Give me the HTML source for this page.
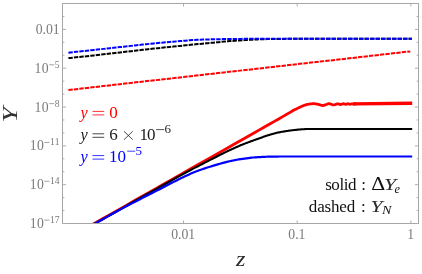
<!DOCTYPE html>
<html><head><meta charset="utf-8"><title>plot</title>
<style>html,body{margin:0;padding:0;background:#fff;}body{width:422px;height:274px;overflow:hidden;font-family:"Liberation Serif",serif;}svg{display:block}</style>
</head><body>
<svg width="422" height="274" viewBox="0 0 422 274" style="will-change:transform">
<rect width="422" height="274" fill="#fff"/>
<defs><clipPath id="pc"><rect x="62.5" y="3.5" width="356" height="220.5"/></clipPath></defs>
<g fill="none" stroke-linejoin="round" clip-path="url(#pc)">
<path d="M68.40,90.00 L410.30,51.40" stroke="#ff0000" stroke-width="2.0" stroke-dasharray="4.4 1.1"/>
<path d="M68.40,58.10 L70.37,57.89 L72.99,57.62 L76.11,57.30 L79.58,56.94 L83.25,56.55 L86.97,56.16 L90.61,55.77 L94.00,55.40 L97.20,55.04 L100.38,54.68 L103.54,54.31 L106.72,53.94 L109.94,53.57 L113.21,53.19 L116.56,52.80 L120.00,52.40 L123.56,51.99 L127.22,51.57 L130.96,51.14 L134.75,50.71 L138.57,50.27 L142.41,49.84 L146.22,49.41 L150.00,49.00 L153.82,48.59 L157.73,48.18 L161.69,47.77 L165.62,47.36 L169.48,46.97 L173.20,46.59 L176.73,46.23 L180.00,45.90 L183.01,45.59 L185.82,45.31 L188.45,45.04 L190.94,44.79 L193.31,44.56 L195.59,44.33 L197.81,44.11 L200.00,43.90 L202.11,43.70 L204.10,43.51 L205.99,43.33 L207.81,43.16 L209.59,43.00 L211.37,42.84 L213.16,42.67 L215.00,42.50 L216.84,42.32 L218.63,42.15 L220.41,41.97 L222.19,41.80 L224.01,41.62 L225.90,41.45 L227.89,41.27 L230.00,41.10 L232.26,40.92 L234.65,40.74 L237.13,40.56 L239.69,40.38 L242.28,40.21 L244.88,40.04 L247.47,39.89 L250.00,39.75 L252.50,39.63 L255.00,39.52 L257.50,39.42 L260.00,39.33 L262.50,39.25 L265.00,39.17 L267.50,39.11 L270.00,39.05 L272.43,39.00 L274.77,38.96 L277.06,38.93 L279.38,38.91 L281.77,38.89 L284.30,38.88 L287.02,38.86 L290.00,38.85 L293.27,38.84 L296.80,38.83 L300.52,38.82 L304.38,38.81 L308.31,38.81 L312.27,38.81 L316.18,38.80 L320.00,38.80 L323.53,38.80 L326.75,38.80 L329.85,38.80 L333.01,38.80 L336.41,38.80 L340.26,38.80 L344.72,38.80 L350.00,38.80 L356.63,38.80 L364.68,38.80 L373.60,38.80 L382.82,38.80 L391.82,38.80 L400.03,38.80 L406.91,38.80 L411.90,38.80" stroke="#000" stroke-width="2.0" stroke-dasharray="4.4 1.1"/>
<path d="M68.40,52.70 L70.37,52.48 L72.99,52.20 L76.11,51.86 L79.58,51.48 L83.25,51.07 L86.97,50.67 L90.61,50.27 L94.00,49.90 L97.20,49.55 L100.38,49.21 L103.54,48.87 L106.72,48.53 L109.94,48.19 L113.21,47.84 L116.56,47.47 L120.00,47.10 L123.56,46.71 L127.22,46.30 L130.96,45.87 L134.75,45.44 L138.57,45.02 L142.41,44.59 L146.22,44.19 L150.00,43.80 L153.82,43.42 L157.73,43.05 L161.69,42.69 L165.62,42.33 L169.48,41.99 L173.20,41.67 L176.73,41.37 L180.00,41.10 L182.91,40.86 L185.47,40.64 L187.79,40.45 L190.00,40.27 L192.21,40.12 L194.53,39.97 L197.09,39.83 L200.00,39.70 L203.27,39.58 L206.80,39.46 L210.52,39.36 L214.38,39.28 L218.31,39.20 L222.27,39.12 L226.18,39.06 L230.00,39.00 L233.75,38.95 L237.50,38.91 L241.25,38.88 L245.00,38.86 L248.75,38.84 L252.50,38.82 L256.25,38.81 L260.00,38.80 L263.54,38.79 L266.80,38.79 L269.93,38.79 L273.12,38.79 L276.55,38.79 L280.39,38.80 L284.81,38.80 L290.00,38.80 L296.05,38.80 L302.85,38.80 L310.22,38.80 L318.01,38.80 L326.04,38.80 L334.16,38.80 L342.20,38.80 L350.00,38.80 L358.07,38.80 L366.79,38.80 L375.79,38.80 L384.70,38.80 L393.14,38.80 L400.73,38.80 L407.11,38.80 L411.90,38.80" stroke="#0000ff" stroke-width="2.0" stroke-dasharray="4.4 1.1"/>
<path d="M92.00,224.82 L96.53,222.25 L102.61,218.80 L109.85,214.69 L117.88,210.14 L126.29,205.37 L134.70,200.59 L142.74,196.04 L150.00,191.91 L156.63,188.15 L163.06,184.50 L169.34,180.95 L175.50,177.45 L181.60,173.99 L187.69,170.53 L193.80,167.06 L200.00,163.55 L206.39,159.93 L212.97,156.19 L219.63,152.41 L226.25,148.66 L232.71,144.99 L238.91,141.48 L244.71,138.19 L250.00,135.18 L254.84,132.44 L259.38,129.87 L263.59,127.48 L267.50,125.26 L271.09,123.23 L274.38,121.36 L277.34,119.68 L280.00,118.17 L282.25,116.88 L284.04,115.85 L285.47,115.03 L286.61,114.37 L287.55,113.82 L288.38,113.34 L289.16,112.88 L290.00,112.40 L290.78,111.95 L291.39,111.59 L291.87,111.30 L292.28,111.05 L292.67,110.83 L293.08,110.59 L293.58,110.32 L294.20,110.00 L294.97,109.61 L295.85,109.18 L296.80,108.71 L297.78,108.24 L298.76,107.78 L299.70,107.34 L300.56,106.94 L301.30,106.60 L301.93,106.32 L302.47,106.08 L302.95,105.87 L303.38,105.69 L303.78,105.54 L304.18,105.39 L304.58,105.25 L305.00,105.10 L305.43,104.96 L305.82,104.82 L306.21,104.70 L306.59,104.59 L306.99,104.48 L307.42,104.38 L307.88,104.29 L308.40,104.20 L308.98,104.11 L309.63,104.02 L310.31,103.93 L311.02,103.85 L311.75,103.78 L312.46,103.73 L313.15,103.70 L313.80,103.70 L314.42,103.73 L315.02,103.78 L315.61,103.86 L316.18,103.95 L316.75,104.06 L317.30,104.17 L317.85,104.29 L318.40,104.40 L318.94,104.53 L319.47,104.69 L320.00,104.87 L320.52,105.05 L321.03,105.22 L321.53,105.36 L322.02,105.46 L322.50,105.50 L322.97,105.48 L323.43,105.42 L323.87,105.31 L324.31,105.17 L324.74,105.03 L325.17,104.87 L325.59,104.73 L326.00,104.60 L326.40,104.47 L326.77,104.33 L327.14,104.17 L327.50,104.02 L327.87,103.88 L328.25,103.78 L328.66,103.71 L329.10,103.70 L329.58,103.76 L330.09,103.90 L330.63,104.09 L331.18,104.31 L331.74,104.52 L332.30,104.71 L332.86,104.84 L333.40,104.90 L333.94,104.87 L334.49,104.77 L335.04,104.62 L335.59,104.44 L336.12,104.25 L336.64,104.09 L337.14,103.96 L337.60,103.90 L338.03,103.91 L338.42,103.97 L338.79,104.07 L339.14,104.18 L339.48,104.30 L339.82,104.41 L340.16,104.48 L340.50,104.50 L340.85,104.46 L341.20,104.38 L341.54,104.26 L341.88,104.13 L342.22,104.00 L342.55,103.88 L342.88,103.79 L343.20,103.75 L343.52,103.76 L343.83,103.82 L344.13,103.91 L344.43,104.01 L344.73,104.12 L345.02,104.21 L345.31,104.27 L345.60,104.30 L345.89,104.28 L346.17,104.22 L346.44,104.13 L346.72,104.03 L346.99,103.93 L347.26,103.84 L347.53,103.78 L347.80,103.75 L348.07,103.77 L348.34,103.82 L348.60,103.90 L348.87,103.99 L349.13,104.09 L349.39,104.17 L349.65,104.23 L349.90,104.25 L350.15,104.23 L350.39,104.18 L350.63,104.11 L350.87,104.03 L351.10,103.95 L351.34,103.88 L351.57,103.82 L351.80,103.80 L352.03,103.81 L352.26,103.86 L352.49,103.92 L352.71,104.00 L352.94,104.07 L353.16,104.14 L353.38,104.18 L353.60,104.20 L353.82,104.18 L354.03,104.14 L354.24,104.08 L354.46,104.01 L354.67,103.93 L354.88,103.87 L355.09,103.82 L355.30,103.80 L355.52,103.81 L355.76,103.83 L356.01,103.87 L356.26,103.92 L356.49,103.98 L356.69,104.03 L356.87,104.07 L357.00,104.10" stroke="#ff0000" stroke-width="2.8"/>
<path d="M353.00,103.95 L412.20,103.25" stroke="#ff0000" stroke-width="3.3"/>
<path d="M92.00,225.32 L93.93,224.22 L96.41,222.81 L99.36,221.14 L102.69,219.25 L106.30,217.20 L110.12,215.03 L114.05,212.81 L118.00,210.57 L122.15,208.22 L126.64,205.68 L131.38,203.00 L136.25,200.24 L141.15,197.47 L145.98,194.75 L150.63,192.13 L155.00,189.68 L159.19,187.33 L163.34,185.01 L167.42,182.73 L171.38,180.52 L175.16,178.42 L178.72,176.45 L182.02,174.63 L185.00,173.00 L187.56,171.61 L189.69,170.47 L191.50,169.52 L193.12,168.67 L194.67,167.88 L196.25,167.07 L197.99,166.19 L200.00,165.15 L202.32,163.95 L204.84,162.65 L207.49,161.29 L210.19,159.90 L212.87,158.52 L215.45,157.21 L217.85,155.98 L220.00,154.90 L221.89,153.95 L223.60,153.11 L225.16,152.34 L226.61,151.64 L227.98,150.98 L229.31,150.35 L230.64,149.73 L232.00,149.10 L233.39,148.46 L234.76,147.85 L236.10,147.25 L237.42,146.67 L238.70,146.11 L239.95,145.58 L241.15,145.08 L242.30,144.60 L243.39,144.16 L244.41,143.76 L245.38,143.39 L246.32,143.04 L247.23,142.71 L248.14,142.38 L249.06,142.05 L250.00,141.70 L250.93,141.35 L251.81,141.02 L252.68,140.70 L253.55,140.37 L254.45,140.03 L255.41,139.68 L256.45,139.31 L257.60,138.90 L258.89,138.44 L260.33,137.94 L261.86,137.40 L263.44,136.86 L265.03,136.31 L266.56,135.79 L268.00,135.32 L269.30,134.90 L270.45,134.54 L271.51,134.23 L272.48,133.94 L273.41,133.69 L274.30,133.46 L275.18,133.23 L276.07,133.02 L277.00,132.80 L277.96,132.58 L278.91,132.38 L279.87,132.19 L280.82,132.01 L281.77,131.84 L282.72,131.67 L283.66,131.51 L284.60,131.35 L285.53,131.20 L286.45,131.05 L287.36,130.92 L288.28,130.79 L289.19,130.66 L290.11,130.54 L291.05,130.42 L292.00,130.30 L292.97,130.18 L293.96,130.06 L294.96,129.95 L295.96,129.84 L296.97,129.73 L297.99,129.63 L299.00,129.54 L300.00,129.45 L300.99,129.37 L301.95,129.30 L302.91,129.23 L303.88,129.18 L304.85,129.12 L305.86,129.07 L306.90,129.03 L308.00,129.00 L309.14,128.97 L310.31,128.96 L311.52,128.95 L312.75,128.94 L314.02,128.94 L315.31,128.95 L316.64,128.95 L318.00,128.95 L319.21,128.95 L320.20,128.96 L321.12,128.96 L322.12,128.97 L323.36,128.98 L324.98,128.99 L327.15,129.00 L330.00,129.00 L333.65,129.00 L337.98,129.00 L342.85,129.00 L348.11,129.00 L353.61,129.00 L359.19,129.00 L364.70,129.00 L370.00,129.00 L375.46,129.00 L381.38,129.00 L387.52,129.00 L393.60,129.00 L399.37,129.00 L404.57,129.00 L408.93,129.00 L412.20,129.00" stroke="#000" stroke-width="2.1"/>
<path d="M92.00,225.32 L94.03,224.18 L96.77,222.63 L100.02,220.80 L103.62,218.77 L107.40,216.65 L111.17,214.54 L114.76,212.54 L118.00,210.77 L120.99,209.15 L123.95,207.57 L126.85,206.03 L129.69,204.54 L132.44,203.11 L135.09,201.73 L137.61,200.42 L140.00,199.19 L142.21,198.05 L144.24,197.02 L146.14,196.06 L147.94,195.16 L149.68,194.29 L151.41,193.42 L153.17,192.53 L155.00,191.60 L156.88,190.63 L158.75,189.66 L160.62,188.68 L162.50,187.69 L164.38,186.71 L166.25,185.73 L168.12,184.76 L170.00,183.80 L171.88,182.84 L173.75,181.88 L175.62,180.91 L177.50,179.96 L179.38,179.01 L181.25,178.08 L183.12,177.18 L185.00,176.30 L186.84,175.46 L188.63,174.64 L190.41,173.85 L192.19,173.08 L194.01,172.31 L195.90,171.55 L197.89,170.78 L200.00,170.00 L202.29,169.19 L204.77,168.36 L207.35,167.52 L210.00,166.68 L212.65,165.86 L215.23,165.09 L217.71,164.36 L220.00,163.70 L222.11,163.11 L224.10,162.58 L225.99,162.09 L227.81,161.65 L229.59,161.23 L231.37,160.84 L233.16,160.47 L235.00,160.10 L236.90,159.74 L238.82,159.41 L240.76,159.10 L242.69,158.81 L244.59,158.54 L246.46,158.29 L248.27,158.06 L250.00,157.85 L251.64,157.67 L253.19,157.52 L254.68,157.39 L256.12,157.28 L257.56,157.19 L259.00,157.11 L260.47,157.03 L262.00,156.95 L263.50,156.87 L264.90,156.81 L266.27,156.75 L267.69,156.70 L269.20,156.65 L270.88,156.61 L272.79,156.58 L275.00,156.55 L277.38,156.53 L279.82,156.51 L282.40,156.50 L285.19,156.50 L288.27,156.50 L291.71,156.50 L295.60,156.50 L300.00,156.50 L304.97,156.50 L310.46,156.50 L316.38,156.50 L322.68,156.50 L329.26,156.50 L336.06,156.50 L343.00,156.50 L350.00,156.50 L357.62,156.50 L366.15,156.50 L375.16,156.50 L384.23,156.50 L392.89,156.50 L400.74,156.50 L407.32,156.50 L412.20,156.50" stroke="#0000ff" stroke-width="2.2"/>
</g>
<rect x="62.5" y="3.5" width="356.0" height="220.0" fill="none" stroke="#a6a6a6" stroke-width="1"/>
<path d="M62.5,223.50h3.6 M418.5,223.50h-3.6 M62.5,210.56h1.9 M418.5,210.56h-1.9 M62.5,197.62h1.9 M418.5,197.62h-1.9 M62.5,184.68h3.6 M418.5,184.68h-3.6 M62.5,171.74h1.9 M418.5,171.74h-1.9 M62.5,158.80h1.9 M418.5,158.80h-1.9 M62.5,145.86h3.6 M418.5,145.86h-3.6 M62.5,132.92h1.9 M418.5,132.92h-1.9 M62.5,119.98h1.9 M418.5,119.98h-1.9 M62.5,107.04h3.6 M418.5,107.04h-3.6 M62.5,94.10h1.9 M418.5,94.10h-1.9 M62.5,81.16h1.9 M418.5,81.16h-1.9 M62.5,68.22h3.6 M418.5,68.22h-3.6 M62.5,55.28h1.9 M418.5,55.28h-1.9 M62.5,42.34h1.9 M418.5,42.34h-1.9 M62.5,29.40h3.6 M418.5,29.40h-3.6 M62.5,16.46h1.9 M418.5,16.46h-1.9 M62.5,3.52h1.9 M418.5,3.52h-1.9 M183.50,223.5v-3 M183.50,3.5v3 M297.20,223.5v-3 M297.20,3.5v3 M410.90,223.5v-3 M410.90,3.5v3" stroke="#adadad" stroke-width="1" fill="none"/>
<g font-family="Liberation Serif, serif" font-size="13.7" fill="#7a7a7a">
<text x="59.6" y="33.90" text-anchor="end">0.01</text>
<text x="34.60 41.80" y="72.72">10</text>
<path d="M49.20,64.82h5.1" stroke="#7a7a7a" stroke-width="0.7" fill="none"/>
<text x="54.75" y="67.72" font-size="9.6">5</text>
<text x="34.60 41.80" y="111.54">10</text>
<path d="M49.20,103.64h5.1" stroke="#7a7a7a" stroke-width="0.7" fill="none"/>
<text x="54.75" y="106.54" font-size="9.6">8</text>
<text x="29.75 36.95" y="150.36">10</text>
<path d="M44.35,142.46h5.1" stroke="#7a7a7a" stroke-width="0.7" fill="none"/>
<text x="49.90 54.75" y="145.36" font-size="9.6">11</text>
<text x="29.75 36.95" y="189.18">10</text>
<path d="M44.35,181.28h5.1" stroke="#7a7a7a" stroke-width="0.7" fill="none"/>
<text x="49.90 54.75" y="184.18" font-size="9.6">14</text>
<text x="29.75 36.95" y="228.00">10</text>
<path d="M44.35,220.10h5.1" stroke="#7a7a7a" stroke-width="0.7" fill="none"/>
<text x="49.90 54.75" y="223.00" font-size="9.6">17</text>
<text x="183.20" y="238.7" text-anchor="middle">0.01</text>
<text x="296.90" y="238.7" text-anchor="middle">0.1</text>
<text x="410.60" y="238.7" text-anchor="middle">1</text>
</g>
<g font-family="Liberation Serif, serif" font-style="italic" fill="#111">
<text transform="translate(240.6,265.7) scale(1.1,1)" font-size="22" text-anchor="middle" fill="#2a2a2a">z</text>
<text transform="translate(17.3,114.7) rotate(-90) scale(1.3,1)" font-size="21.5" text-anchor="middle" fill="#333">Y</text>
</g>
<g font-family="Liberation Serif, serif" font-size="17" fill="#ff0000">
<text x="80.5" y="117.6" font-style="italic" font-size="16.3">y</text>
<path d="M92.5,111.40h11.7M92.5,114.90h11.7" stroke="#ff0000" stroke-width="0.8" fill="none"/>
<text x="109.3" y="117.6">0</text>
</g>
<g font-family="Liberation Serif, serif" font-size="17" fill="#1c1c1c">
<text x="80.5" y="140.0" font-style="italic" font-size="16.3">y</text>
<path d="M92.5,133.80h11.7M92.5,137.30h11.7" stroke="#1c1c1c" stroke-width="0.8" fill="none"/>
<text x="109.3" y="140.0">6</text>
<path d="M124,131.3l8.7,8.4M132.7,131.3l-8.7,8.4" stroke="#1c1c1c" stroke-width="0.8" fill="none"/>
<text x="139.6 147.0" y="140.0">10</text>
<path d="M156.2,129.60h8" stroke="#1c1c1c" stroke-width="0.75" fill="none"/>
<text x="164.5" y="132.90" font-size="13">6</text>
</g>
<g font-family="Liberation Serif, serif" font-size="17" fill="#0000ff">
<text x="80.5" y="161.8" font-style="italic" font-size="16.3">y</text>
<path d="M92.5,155.60h11.7M92.5,159.10h11.7" stroke="#0000ff" stroke-width="0.8" fill="none"/>
<text x="109.0" y="161.8">10</text>
<path d="M127.2,151.20h8" stroke="#0000ff" stroke-width="0.75" fill="none"/>
<text x="135.4" y="154.70" font-size="13">5</text>
</g>
<g font-family="Liberation Serif, serif" font-size="17" fill="#111">
<text x="325.2" y="190.4" textLength="31.2" lengthAdjust="spacing">solid</text>
<text x="361.2" y="190.4">:</text>
<text transform="translate(371.3,190.3) scale(1.28,1.05)">Δ</text>
<text transform="translate(383.9,190.3) scale(1.28,1)" font-style="italic" font-size="17" fill="#2a2a2a">Y</text>
<text x="394.6" y="192.7" font-style="italic" font-size="12.3">e</text>
<text x="308.8" y="212.1" textLength="46.4" lengthAdjust="spacing">dashed</text>
<text x="361.0" y="212.1">:</text>
<text transform="translate(370.6,212.0) scale(1.28,1)" font-style="italic" font-size="17" fill="#2a2a2a">Y</text>
<text transform="translate(381.9,214.3) scale(1.15,1)" font-style="italic" font-size="12.3">N</text>
</g>
</svg>
</body></html>
